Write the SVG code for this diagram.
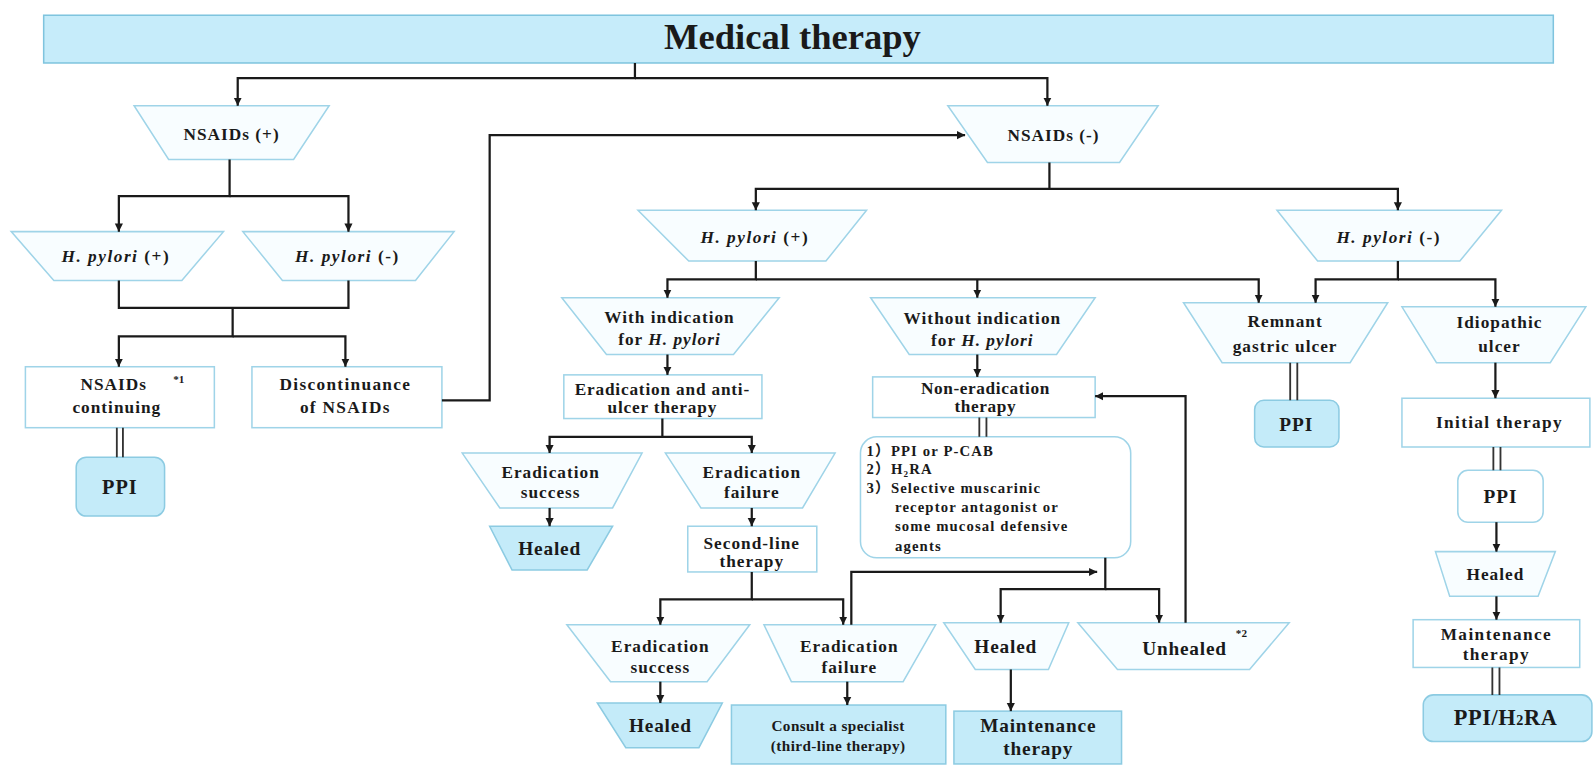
<svg xmlns="http://www.w3.org/2000/svg" width="1593" height="767" viewBox="0 0 1593 767">
<style>
.bar{fill:#c6ecfa;stroke:#7fc4de;stroke-width:1.5}
.tz{fill:#f8fdff;stroke:#9fd4e8;stroke-width:1.5}
.bx{fill:#ffffff;stroke:#9fd4e8;stroke-width:1.5}
.bl{fill:#c4ebf9;stroke:#8ccbe2;stroke-width:1.5}
.ln{fill:none;stroke:#1a1a1a;stroke-width:2.2}
.dl{fill:none;stroke:#333;stroke-width:1.8}
text{font-family:"Liberation Serif","Times New Roman","Noto Sans CJK SC",serif;font-weight:bold;fill:#1a1a1a;text-anchor:middle;font-size:17px;letter-spacing:1px}
.it{font-style:italic}
.hp{letter-spacing:1.5px}
.big{font-size:19px;letter-spacing:0.8px}
.sup{font-size:11px;letter-spacing:0}
.lst{text-anchor:start;font-size:14.5px;letter-spacing:1.1px}
</style>
<defs>
<marker id="ar" viewBox="0 0 10 10" refX="10" refY="5" markerWidth="8" markerHeight="9" markerUnits="userSpaceOnUse" orient="auto">
<path d="M0,0 L10,5 L0,10 z" fill="#1a1a1a"/>
</marker>
</defs>
<rect width="1593" height="767" fill="#ffffff"/>
<g transform="scale(1.0159)">
<g id="title"><rect class="bar" x="43" y="15" width="1486" height="47"/><text x="780" y="48" style="font-size:36px;letter-spacing:0">Medical therapy</text></g>

<g id="nsaids-pos"><polygon class="tz" points="132,104 324,104 289,157 166,157"/><text x="228" y="138">NSAIDs (+)</text></g>
<g id="hp-pos-l"><polygon class="tz" points="11,228 220,228 179,276 53,276"/><text class="hp" x="114" y="258"><tspan class="it">H. pylori</tspan> (+)</text></g>
<g id="hp-neg-l"><polygon class="tz" points="239,228 447,228 409,276 278,276"/><text class="hp" x="342" y="258"><tspan class="it">H. pylori</tspan> (-)</text></g>
<g id="nsaids-cont"><rect class="bx" x="25" y="361" width="186" height="60"/><text x="112" y="384">NSAIDs</text><text class="sup" x="176" y="377">*1</text><text x="115" y="407">continuing</text></g>
<g id="discont"><rect class="bx" x="248" y="361" width="187" height="60"/><text x="340" y="384" style="letter-spacing:1.3px">Discontinuance</text><text x="340" y="407" style="letter-spacing:1.3px">of NSAIDs</text></g>
<g id="ppi-l"><rect class="bl" x="75" y="450" width="87" height="58" rx="10"/><text x="118" y="486" style="font-size:20px">PPI</text></g>

<g id="nsaids-neg"><polygon class="tz" points="933,104 1140,104 1102,160 972,160"/><text x="1037" y="139">NSAIDs (-)</text></g>
<g id="hp-pos-r"><polygon class="tz" points="628,207 853,207 813,257 678,257"/><text class="hp" x="743" y="239"><tspan class="it">H. pylori</tspan> (+)</text></g>
<g id="hp-neg-r"><polygon class="tz" points="1257,207 1478,207 1437,257 1297,257"/><text class="hp" x="1367" y="239"><tspan class="it">H. pylori</tspan> (-)</text></g>

<g id="with-ind"><polygon class="tz" points="553,293 767,293 722,349 597,349"/><text x="659" y="318">With indication</text><text x="659" y="340">for <tspan class="it">H. pylori</tspan></text></g>
<g id="without-ind"><polygon class="tz" points="857,293 1078,293 1040,349 895,349"/><text x="967" y="319">Without indication</text><text x="967" y="341">for <tspan class="it">H. pylori</tspan></text></g>
<g id="remnant"><polygon class="tz" points="1165,298 1366,298 1329,357 1203,357"/><text x="1265" y="322">Remnant</text><text x="1265" y="346">gastric ulcer</text></g>
<g id="idiopathic"><polygon class="tz" points="1380,302 1561,302 1526,357 1414,357"/><text x="1476" y="323">Idiopathic</text><text x="1476" y="346">ulcer</text></g>

<g id="erad-anti"><rect class="bx" x="555" y="369" width="195" height="43"/><text x="652" y="389" style="letter-spacing:0.8px">Eradication and anti-</text><text x="652" y="407" style="letter-spacing:0.8px">ulcer therapy</text></g>
<g id="non-erad"><rect class="bx" x="859" y="371" width="219" height="40"/><text x="970" y="388" style="letter-spacing:0.6px">Non-eradication</text><text x="970" y="406" style="letter-spacing:0.6px">therapy</text></g>
<g id="ppi-remnant"><rect class="bl" x="1235" y="394" width="83" height="46" rx="9"/><text x="1276" y="424" style="font-size:19px">PPI</text></g>
<g id="initial"><rect class="bx" x="1380" y="392" width="185" height="48"/><text x="1476" y="421" style="letter-spacing:1.3px">Initial  therapy</text></g>

<g id="list"><rect class="bx" x="847" y="430" width="266" height="119" rx="16"/>
<text class="lst" x="853" y="449">1）PPI or P-CAB</text>
<text class="lst" x="853" y="467">2）H<tspan style="font-size:9px" dy="3">2</tspan><tspan dy="-3">RA</tspan></text>
<text class="lst" x="853" y="485">3）Selective muscarinic</text>
<text class="lst" x="881" y="504">receptor antagonist or</text>
<text class="lst" x="881" y="523">some mucosal defensive</text>
<text class="lst" x="881" y="542">agents</text></g>

<g id="erad-succ-1"><polygon class="tz" points="455,446 632,446 603,500 492,500"/><text x="542" y="471">Eradication</text><text x="542" y="490">success</text></g>
<g id="erad-fail-1"><polygon class="tz" points="655,446 822,446 790,500 690,500"/><text x="740" y="471">Eradication</text><text x="740" y="490">failure</text></g>
<g id="healed-1"><polygon class="bl" points="482,518 603,518 578,561 504,561"/><text class="big" x="541" y="546">Healed</text></g>
<g id="second-line"><rect class="bx" x="677" y="518" width="127" height="45"/><text x="740" y="540">Second-line</text><text x="740" y="558">therapy</text></g>

<g id="erad-succ-2"><polygon class="tz" points="558,615 738,615 696,671 601,671"/><text x="650" y="642">Eradication</text><text x="650" y="662">success</text></g>
<g id="erad-fail-2"><polygon class="tz" points="752,615 921,615 889,671 779,671"/><text x="836" y="642">Eradication</text><text x="836" y="662">failure</text></g>
<g id="healed-2"><polygon class="bl" points="588,692 711,692 688,736 616,736"/><text class="big" x="650" y="721">Healed</text></g>
<g id="consult"><rect class="bl" x="720" y="694" width="211" height="58"/><text x="825" y="720" style="font-size:15px;letter-spacing:0.4px">Consult a specialist</text><text x="825" y="739" style="font-size:15px;letter-spacing:0.4px">(third-line therapy)</text></g>

<g id="healed-3"><polygon class="tz" points="929,613 1052,613 1032,659 960,659"/><text class="big" x="990" y="643">Healed</text></g>
<g id="unhealed"><polygon class="tz" points="1061,613 1269,613 1230,659 1100,659"/><text class="big" x="1166" y="645">Unhealed</text><text class="sup" x="1222" y="627">*2</text></g>
<g id="maint-blue"><rect class="bl" x="939" y="700" width="165" height="52"/><text class="big" x="1022" y="721">Maintenance</text><text class="big" x="1022" y="743">therapy</text></g>

<g id="ppi-r"><rect class="bx" x="1435" y="463" width="84" height="51" rx="10"/><text x="1477" y="495" style="font-size:19px">PPI</text></g>
<g id="healed-r"><polygon class="tz" points="1413,543 1531,543 1514,587 1427,587"/><text x="1472" y="571">Healed</text></g>
<g id="maint-r"><rect class="bx" x="1391" y="610" width="164" height="47"/><text x="1473" y="630" style="letter-spacing:1.4px">Maintenance</text><text x="1473" y="650" style="letter-spacing:1.4px">therapy</text></g>
<g id="ppi-h2ra"><rect class="bl" x="1401" y="684" width="166" height="46" rx="10"/><text x="1482" y="714" style="font-size:22px;letter-spacing:0.6px">PPI/H<tspan style="font-size:14px">2</tspan>RA</text></g>

<g id="connectors">
<path class="ln" d="M625,62 V77 H234 V104" marker-end="url(#ar)"/>
<path class="ln" d="M625,77 H1031 V104" marker-end="url(#ar)"/>
<path class="ln" d="M226,157 V193 H117 V228" marker-end="url(#ar)"/>
<path class="ln" d="M226,193 H343 V228" marker-end="url(#ar)"/>
<path class="ln" d="M117,276 V303 H343 V276"/>
<path class="ln" d="M229,303 V331 H117 V361" marker-end="url(#ar)"/>
<path class="ln" d="M229,331 H340 V361" marker-end="url(#ar)"/>
<path class="dl" d="M115,421 V450 M121,421 V450"/>
<path class="ln" d="M435,394 H482 V133 H950" marker-end="url(#ar)"/>
<path class="ln" d="M1033,160 V186 H744 V207" marker-end="url(#ar)"/>
<path class="ln" d="M1033,186 H1376 V207" marker-end="url(#ar)"/>
<path class="ln" d="M744,257 V275 H657 V293" marker-end="url(#ar)"/>
<path class="ln" d="M744,275 H1239 V298" marker-end="url(#ar)"/>
<path class="ln" d="M962,275 V293" marker-end="url(#ar)"/>
<path class="ln" d="M1376,257 V275 H1295 V298" marker-end="url(#ar)"/>
<path class="ln" d="M1376,275 H1472 V302" marker-end="url(#ar)"/>
<path class="ln" d="M657,349 V369" marker-end="url(#ar)"/>
<path class="ln" d="M962,349 V371" marker-end="url(#ar)"/>
<path class="dl" d="M1270,357 V394 M1277,357 V394"/>
<path class="ln" d="M1472,357 V392" marker-end="url(#ar)"/>
<path class="dl" d="M1470,440 V463 M1477,440 V463"/>
<path class="ln" d="M1473,514 V543" marker-end="url(#ar)"/>
<path class="ln" d="M1473,587 V610" marker-end="url(#ar)"/>
<path class="dl" d="M1469,657 V684 M1476,657 V684"/>
<path class="ln" d="M652,412 V430 H541 V446" marker-end="url(#ar)"/>
<path class="ln" d="M652,430 H740 V446" marker-end="url(#ar)"/>
<path class="ln" d="M541,500 V518" marker-end="url(#ar)"/>
<path class="ln" d="M740,500 V518" marker-end="url(#ar)"/>
<path class="ln" d="M740,563 V590 H650 V615" marker-end="url(#ar)"/>
<path class="ln" d="M740,590 H830 V615" marker-end="url(#ar)"/>
<path class="ln" d="M650,671 V692" marker-end="url(#ar)"/>
<path class="ln" d="M834,671 V694" marker-end="url(#ar)"/>
<path class="ln" d="M838,615 V563 H1080" marker-end="url(#ar)"/>
<path class="dl" d="M964,411 V430 M971,411 V430"/>
<path class="ln" d="M1088,549 V580 H985 V613" marker-end="url(#ar)"/>
<path class="ln" d="M1088,580 H1141 V613" marker-end="url(#ar)"/>
<path class="ln" d="M1167,613 V390 H1078" marker-end="url(#ar)"/>
<path class="ln" d="M995,659 V700" marker-end="url(#ar)"/>
</g>
</g>
</svg>
